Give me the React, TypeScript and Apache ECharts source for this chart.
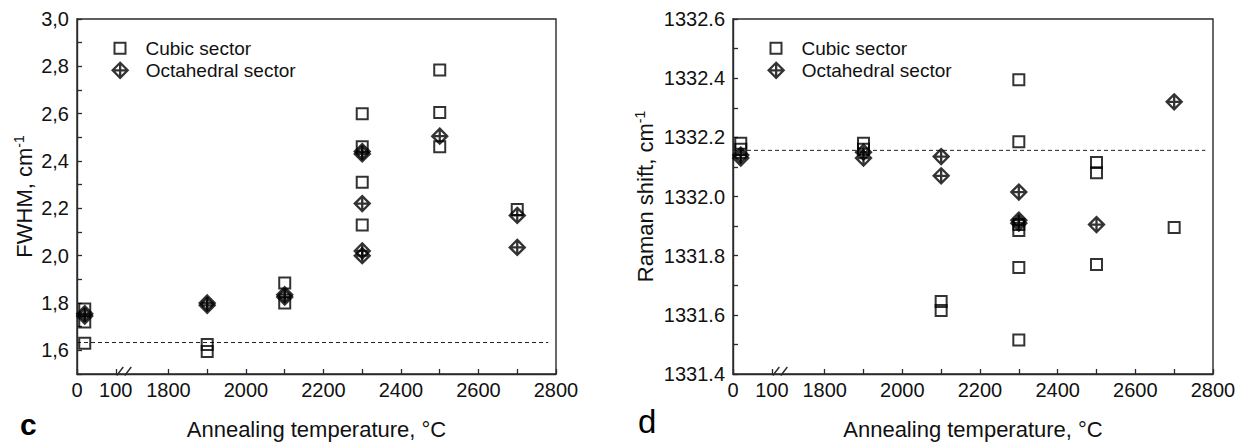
import React, { useEffect, useRef } from "react";
import * as echarts from "echarts";

// ---------- data ----------
const fwhmCubic: [number, number][] = [
  [20, 1.775], [20, 1.72], [20, 1.63],
  [1900, 1.625], [1900, 1.595],
  [2100, 1.885], [2100, 1.8],
  [2300, 2.6], [2300, 2.46], [2300, 2.31], [2300, 2.13],
  [2500, 2.785], [2500, 2.605], [2500, 2.46],
  [2700, 2.195],
];
const fwhmOcta: [number, number][] = [
  [20, 1.755], [20, 1.745],
  [1900, 1.8], [1900, 1.79],
  [2100, 1.835], [2100, 1.825],
  [2300, 2.44], [2300, 2.43], [2300, 2.22], [2300, 2.02], [2300, 2.0],
  [2500, 2.505],
  [2700, 2.17], [2700, 2.035],
];
const ramanCubic: [number, number][] = [
  [20, 1332.18], [20, 1332.16],
  [1900, 1332.18], [1900, 1332.16],
  [2100, 1331.645], [2100, 1331.615],
  [2300, 1332.395], [2300, 1332.185], [2300, 1331.905], [2300, 1331.885], [2300, 1331.76], [2300, 1331.515],
  [2500, 1332.115], [2500, 1332.08], [2500, 1331.77],
  [2700, 1331.895],
];
const ramanOcta: [number, number][] = [
  [20, 1332.14], [20, 1332.13],
  [1900, 1332.15], [1900, 1332.13],
  [2100, 1332.135], [2100, 1332.07],
  [2300, 1332.015], [2300, 1331.92], [2300, 1331.91],
  [2500, 1331.905],
  [2700, 1332.32],
];
const fwhmRef = 1.633;
const ramanRef = 1332.156;
const refLineSpan = [0, 2780];

const xTickTemps = [0, 100, 1800, 1900, 2000, 2100, 2200, 2300, 2400, 2500, 2600, 2700, 2800];
const xLabelTemps = [0, 100, 1800, 2000, 2200, 2400, 2600, 2800];
const fwhmRange = [1.5, 3.0];
const ramanRange = [1331.4, 1332.6];

const seriesNames = ["Cubic sector", "Octahedral sector"];
const panelLetters = ["c", "d"];
const yTitles = ["FWHM, cm", "Raman shift, cm"];
const xTitle = "Annealing temperature, °C";

// ---------- broken x axis transform ----------
const GAP = 136; // axis units used by the break between 100 and 1800
const XMAX = 2800 - 1800 + 100 + GAP;
const tx = (t: number) => (t <= 100 ? t : t - 1800 + 100 + GAP);
const untx = (v: number) => (v <= 100 ? v : v - 100 - GAP + 1800);

const FONT = "'Liberation Sans', Arial, Helvetica, sans-serif";
const FRAME = "#2a2a2a";
const TXT = "#111";

const GRIDS = [
  { left: 77, top: 19, width: 479, height: 355 },
  { left: 733, top: 19, width: 480, height: 355 },
];

const DIAMOND = "path://M7.5,0 L15,7.5 L7.5,15 L0,7.5 Z M7.5,0 L7.5,15 M0,7.5 L15,7.5";

export default function App() {
  const ref = useRef<HTMLDivElement>(null);
  useEffect(() => {
    document.body.style.margin = "0";
    if (!ref.current) return;
    const chart = echarts.init(ref.current, undefined, { renderer: "svg" });

    const xAxis = [0, 1].map((i) => ({
      type: "value",
      gridIndex: i,
      min: 0,
      max: XMAX,
      axisLine: { show: true, lineStyle: { color: FRAME, width: 1.4 } },
      axisTick: {
        show: true,
        inside: true,
        length: 5,
        customValues: xTickTemps.map(tx),
        lineStyle: { color: FRAME, width: 1.3 },
      },
      axisLabel: {
        customValues: xLabelTemps.map(tx),
        formatter: (v: number) => String(Math.round(untx(v))),
        fontSize: 20,
        fontFamily: FONT,
        color: TXT,
        margin: 6,
      },
      splitLine: { show: false },
      name: xTitle,
      nameLocation: "middle",
      nameGap: 44,
      nameTextStyle: { fontSize: 22, fontFamily: FONT, color: TXT },
    }));

    const ranges = [fwhmRange, ramanRange];
    const yAxis = [0, 1].map((i) => ({
      type: "value",
      gridIndex: i,
      min: ranges[i][0],
      max: ranges[i][1],
      interval: 0.1,
      axisLine: { show: true, lineStyle: { color: FRAME, width: 1.4 } },
      axisTick: { show: true, inside: true, length: 5, lineStyle: { color: FRAME, width: 1.3 } },
      axisLabel: {
        formatter: (v: number) => {
          const k = Math.round(v * 10);
          if (k % 2 !== 0) return "";
          const s = (k / 10).toFixed(1);
          return i === 0 ? s.replace(".", ",") : s;
        },
        fontSize: 20,
        fontFamily: FONT,
        color: TXT,
        margin: 8,
      },
      splitLine: { show: false },
      name: `{m|${yTitles[i]}}{s|-1}`,
      nameLocation: "middle",
      nameGap: i === 0 ? 41 : 76,
      nameTextStyle: {
        color: TXT,
        rich: {
          m: { fontSize: 22, fontFamily: FONT, color: TXT, lineHeight: 24 },
          s: { fontSize: 14, fontFamily: FONT, color: TXT, verticalAlign: "top", lineHeight: 24 },
        },
      },
    }));

    const cubicStyle = { color: "transparent", borderColor: "#000", borderWidth: 2 };
    const octaStyle = { color: "transparent", borderColor: "#000", borderWidth: 2.3 };

    const panels = [
      { cubic: fwhmCubic, octa: fwhmOcta, refv: fwhmRef },
      { cubic: ramanCubic, octa: ramanOcta, refv: ramanRef },
    ];

    const series: any[] = [];
    panels.forEach((p, i) => {
      series.push({
        type: "line",
        xAxisIndex: i,
        yAxisIndex: i,
        data: refLineSpan.map((t) => [tx(t), p.refv]),
        symbol: "none",
        silent: true,
        lineStyle: { color: "#222", width: 1, type: [4, 3] },
        z: 1,
      });
      series.push({
        name: seriesNames[0],
        type: "scatter",
        xAxisIndex: i,
        yAxisIndex: i,
        symbol: "rect",
        symbolSize: 11,
        itemStyle: cubicStyle,
        data: p.cubic.map(([t, v]) => [tx(t), v]),
        z: 3,
      });
      series.push({
        name: seriesNames[1],
        type: "scatter",
        xAxisIndex: i,
        yAxisIndex: i,
        symbol: DIAMOND,
        symbolSize: 15,
        itemStyle: octaStyle,
        data: p.octa.map(([t, v]) => [tx(t), v]),
        z: 4,
      });
    });

    const legend: any[] = [];
    GRIDS.forEach((g) => {
      const cx = g.left + 42;
      legend.push({
        data: [seriesNames[0]],
        left: cx - 5.5,
        top: 44.3 - 5.5,
        padding: 0,
        itemWidth: 11,
        itemHeight: 11,
        itemStyle: { borderWidth: 2 },
        selectedMode: false,
        textStyle: { fontSize: 19, fontFamily: FONT, color: TXT, lineHeight: 11, padding: [0, 0, 0, 15] },
      });
      legend.push({
        data: [seriesNames[1]],
        left: cx - 7.5,
        top: 68.3 - 7.5,
        padding: 0,
        itemWidth: 15,
        itemHeight: 15,
        itemStyle: { borderWidth: 2.3 },
        selectedMode: false,
        textStyle: { fontSize: 19, fontFamily: FONT, color: TXT, lineHeight: 15, padding: [0, 0, 0, 13] },
      });
    });

    const graphic: any[] = [];
    GRIDS.forEach((g, i) => {
      const x100 = g.left + (tx(100) / XMAX) * g.width;
      const yb = g.top + g.height;
      [1, 9].forEach((dx) => {
        graphic.push({
          type: "line",
          silent: true,
          shape: { x1: x100 + dx, y1: yb + 1.5, x2: x100 + dx + 6.5, y2: yb - 7 },
          style: { stroke: FRAME, lineWidth: 1.4 },
        });
      });
      graphic.push({
        type: "text",
        left: i === 0 ? 20 : 638,
        top: i === 0 ? 409 : 405,
        style: {
          text: panelLetters[i],
          fontSize: i === 0 ? 30 : 33,
          fontWeight: i === 0 ? "bold" : "normal",
          fontFamily: FONT,
          fill: "#000",
        },
      });
    });

    chart.setOption({
      animation: false,
      grid: GRIDS.map((g) => ({ ...g, show: true, borderColor: FRAME, borderWidth: 1.4, backgroundColor: "transparent" })),
      xAxis,
      yAxis,
      legend,
      series,
      graphic,
    });
    return () => chart.dispose();
  }, []);
  return <div ref={ref} style={{ width: 1253, height: 448, background: "#fff" }} />;
}
